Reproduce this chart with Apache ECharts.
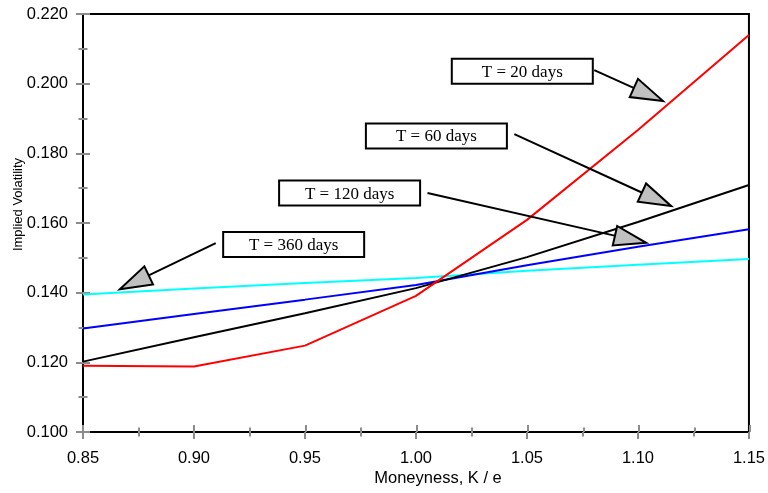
<!DOCTYPE html>
<html><head><meta charset="utf-8">
<script src="https://cdn.jsdelivr.net/npm/echarts@6/dist/echarts.min.js"></script>
<style>html,body{margin:0;padding:0;background:#fff}#c{width:768px;height:493px}</style>
</head><body><div id="c"></div>
<script>
// ---- data ----
const moneyness = [0.85, 0.90, 0.95, 1.00, 1.05, 1.10, 1.15];
const vol20  = [0.1190, 0.1188, 0.1248, 0.1391, 0.1609, 0.1867, 0.2140];
const vol60  = [0.1202, 0.1272, 0.1341, 0.1413, 0.1502, 0.1603, 0.1709];
const vol120 = [0.1297, 0.1339, 0.1380, 0.1422, 0.1479, 0.1532, 0.1582];
const vol360 = [0.1395, 0.1412, 0.1428, 0.1442, 0.1463, 0.1480, 0.1497];
const seriesNames = ['T = 20 days', 'T = 60 days', 'T = 120 days', 'T = 360 days'];
// annotation anchors in data coordinates [moneyness, volatility]
const boxCenters  = [[1.0479, 0.2036], [1.0092, 0.1850], [0.9701, 0.1686], [0.9449, 0.1538]];
const arrowStarts = [[1.0803, 0.2039], [1.0443, 0.1855], [1.0052, 0.1686], [0.9098, 0.1542]];
const arrowTips   = [[1.1113, 0.1950], [1.1149, 0.1649], [1.1037, 0.1543], [0.8666, 0.1410]];
const xTitle = 'Moneyness, K / e';
const yTitle = 'Implied Volatility';

const colors = ['#ff0000', '#000000', '#0000ff', '#00ffff'];
const allVols = [vol20, vol60, vol120, vol360];

const chart = echarts.init(document.getElementById('c'), null, {renderer: 'canvas'});
const gridPos = {left: 83, right: 18, top: 14, bottom: 61};
const labelFont = {fontFamily: '"Liberation Sans", Arial, sans-serif', fontSize: 16.5, color: '#000'};
const tickStyle = {color: '#8c8c8c', width: 2};

function xAx(gridIndex, inside) {
  return {
    type: 'value', gridIndex, position: 'bottom', min: 0.85, max: 1.15, interval: 0.05,
    axisLine: {show: !inside, lineStyle: {color: '#000', width: 2}},
    axisTick: {show: true, inside, length: 7, lineStyle: tickStyle},
    minorTick: {show: true, splitNumber: 2, length: 4.5, lineStyle: tickStyle},
    axisLabel: inside ? {show: false} : Object.assign({show: true, margin: 18, formatter: v => v.toFixed(2)}, labelFont),
    splitLine: {show: false}, minorSplitLine: {show: false}
  };
}
function yAx(gridIndex, inside) {
  return {
    type: 'value', gridIndex, position: 'left', min: 0.1, max: 0.22, interval: 0.02,
    axisLine: {show: !inside, lineStyle: {color: '#000', width: 2}},
    axisTick: {show: true, inside, length: 7, lineStyle: tickStyle},
    minorTick: {show: true, splitNumber: 2, length: 4.5, lineStyle: tickStyle},
    axisLabel: inside ? {show: false} : Object.assign({show: true, margin: 15, formatter: v => v.toFixed(3)}, labelFont),
    splitLine: {show: false}, minorSplitLine: {show: false}
  };
}

const option = {
  animation: false,
  backgroundColor: '#fff',
  grid: [
    Object.assign({show: true, borderColor: '#000', borderWidth: 2, backgroundColor: 'transparent'}, gridPos),
    Object.assign({show: false}, gridPos)
  ],
  xAxis: [xAx(0, false), xAx(1, true)],
  yAxis: [yAx(0, false), yAx(1, true)],
  series: allVols.map((vals, i) => ({
    name: seriesNames[i], type: 'line', xAxisIndex: 0, yAxisIndex: 0,
    data: moneyness.map((m, j) => [m, vals[j]]),
    symbol: 'none', lineStyle: {color: colors[i], width: 2}, itemStyle: {color: colors[i]},
    z: 3 + (3 - i)
  }))
};
chart.setOption(option);

// ---- annotations ----
const px = p => chart.convertToPixel({xAxisIndex: 0, yAxisIndex: 0}, p);
const graphics = [];
const boxW = 141, boxH = 25;
seriesNames.forEach((name, i) => {
  const c = px(boxCenters[i]);
  graphics.push({type: 'rect', shape: {x: c[0] - boxW / 2, y: c[1] - boxH / 2, width: boxW, height: boxH},
    style: {fill: '#fff', stroke: '#000', lineWidth: 2}, z: 20});
  graphics.push({type: 'text', x: c[0], y: c[1] + 1, z: 21,
    style: {text: name, align: 'center', verticalAlign: 'middle', fill: '#000',
      font: '17px "Liberation Serif", "Times New Roman", serif'}});
  const s = px(arrowStarts[i]), t = px(arrowTips[i]);
  const dx = t[0] - s[0], dy = t[1] - s[1];
  const len = Math.hypot(dx, dy);
  const ux = dx / len, uy = dy / len, nx = -uy, ny = ux;
  const L = 32, W = 10;
  const bx = t[0] - ux * L, by = t[1] - uy * L;
  graphics.push({type: 'line', shape: {x1: s[0], y1: s[1], x2: bx + ux * 4, y2: by + uy * 4},
    style: {stroke: '#000', lineWidth: 2}, z: 20});
  graphics.push({type: 'polygon', shape: {points: [[t[0], t[1]], [bx + nx * W, by + ny * W], [bx - nx * W, by - ny * W]]},
    style: {fill: '#c0c0c0', stroke: '#000', lineWidth: 2, lineJoin: 'miter'}, z: 21});
});
graphics.push({type: 'text', x: 438, y: 478, z: 21,
  style: {text: xTitle, align: 'center', verticalAlign: 'middle', fill: '#000',
    font: '16.5px "Liberation Sans", Arial, sans-serif'}});
graphics.push({type: 'text', x: 18, y: 204.5, rotation: Math.PI / 2, z: 21,
  style: {text: yTitle, align: 'center', verticalAlign: 'middle', fill: '#000',
    font: '13px "Liberation Sans", Arial, sans-serif'}});
chart.setOption({graphic: graphics});
</script>
</body></html>
